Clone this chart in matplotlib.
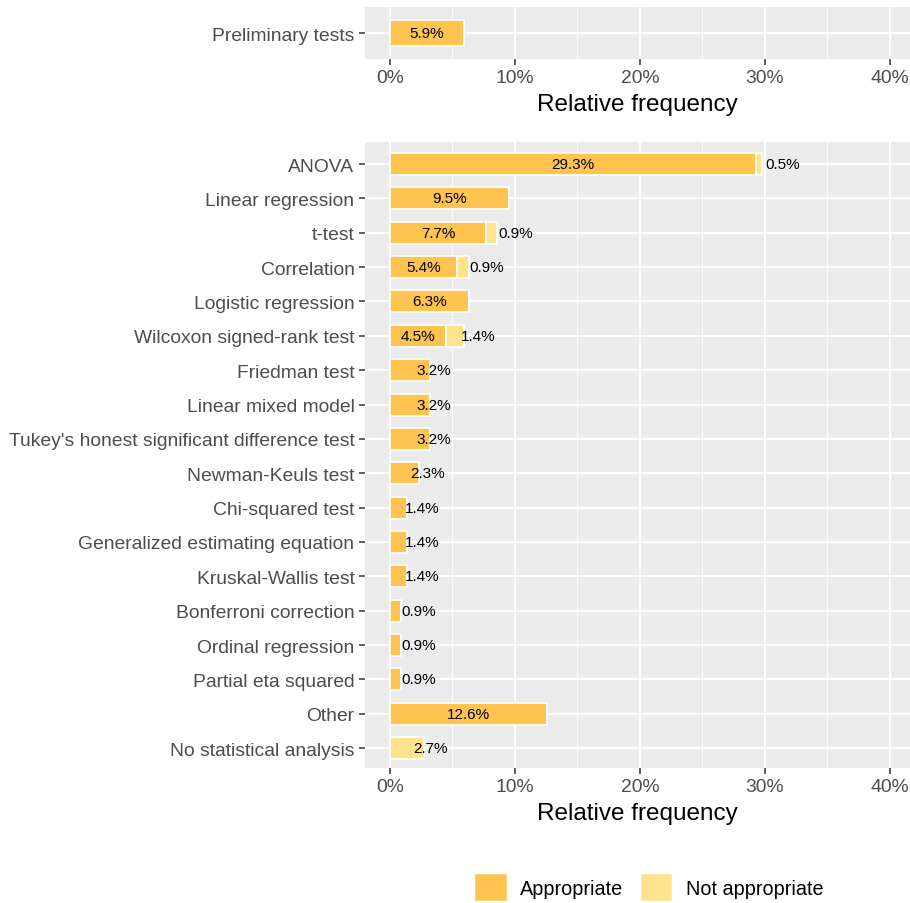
import matplotlib
matplotlib.use("Agg")
import matplotlib.pyplot as plt
from matplotlib.patches import Patch
import numpy as np

plt.rcParams['font.family'] = ['Liberation Sans', 'DejaVu Sans']

top_categories = ["Preliminary tests"]
top_appropriate = [5.9]
top_not_appropriate = [0.0]

categories = ["ANOVA", "Linear regression", "t-test", "Correlation", "Logistic regression",
              "Wilcoxon signed-rank test", "Friedman test", "Linear mixed model",
              "Tukey's honest significant difference test", "Newman-Keuls test",
              "Chi-squared test", "Generalized estimating equation", "Kruskal-Wallis test",
              "Bonferroni correction", "Ordinal regression", "Partial eta squared",
              "Other", "No statistical analysis"]
appropriate = [29.3, 9.5, 7.7, 5.4, 6.3, 4.5, 3.2, 3.2, 3.2, 2.3, 1.4, 1.4, 1.4, 0.9, 0.9, 0.9, 12.6, 0.0]
not_appropriate = [0.5, 0.0, 0.9, 0.9, 0.0, 1.4, 0.0, 0.0, 0.0, 0.0, 0.0, 0.0, 0.0, 0.0, 0.0, 0.0, 0.0, 2.7]

xticks = [0, 10, 20, 30, 40]
xtick_labels = ["0%", "10%", "20%", "30%", "40%"]
legend_labels = ["Appropriate", "Not appropriate"]

C_APP = "#FFC44F"
C_NOT = "#FFE38C"
BG = "#EBEBEB"

fig = plt.figure(figsize=(9.10, 9.04), dpi=100)
ax_top = fig.add_axes([0.401, 0.9336, 0.599, 0.0575])
ax_bot = fig.add_axes([0.401, 0.1493, 0.599, 0.6925])


def style(ax, cats):
    ax.set_facecolor(BG)
    for s in ax.spines.values():
        s.set_visible(False)
    ax.set_xlim(-2.0, 41.6)
    ax.set_xticks(xticks)
    ax.set_xticklabels(xtick_labels)
    ax.set_xticks([5, 15, 25, 35], minor=True)
    ax.set_yticks(np.arange(len(cats)))
    ax.set_yticklabels(cats)
    ax.tick_params(axis='both', which='major', length=4, width=1.1, color="#333333",
                   labelcolor="#4D4D4D", labelsize=13.9)
    ax.tick_params(axis='x', which='minor', length=0)
    ax.grid(True, which='major', color='white', linewidth=1.3)
    ax.grid(True, which='minor', axis='x', color='white', linewidth=0.6)
    ax.set_axisbelow(True)
    ax.set_xlabel("Relative frequency", fontsize=17.5, color="black", labelpad=5)


def draw(ax, cats, app, nota, h):
    y = np.arange(len(cats))
    ax.barh(y, app, height=h, color=C_APP, edgecolor='white', linewidth=1.2)
    ax.barh(y, nota, left=app, height=h, color=C_NOT, edgecolor='white', linewidth=1.2)
    for yi, a, n in zip(y, app, nota):
        for left, v in ((0, a), (a, n)):
            if v <= 0:
                continue
            c = left + v / 2
            if v >= 4:
                ax.text(c, yi, f"{v:.1f}%", ha='center', va='center', fontsize=11, color='black')
            else:
                ax.text(c + 0.5, yi, f"{v:.1f}%", ha='left', va='center', fontsize=11, color='black')


style(ax_top, top_categories)
ax_top.set_ylim(-0.6, 0.6)
draw(ax_top, top_categories, top_appropriate, top_not_appropriate, 0.6)

style(ax_bot, categories)
ax_bot.set_ylim(len(categories) - 0.42, -0.64)
draw(ax_bot, categories, appropriate, not_appropriate, 0.64)

handles = [Patch(facecolor=C_APP, edgecolor='white'), Patch(facecolor=C_NOT, edgecolor='white')]
fig.legend(handles, legend_labels, loc='lower center', bbox_to_anchor=(0.713, -0.018), ncol=2,
           frameon=False, fontsize=14.3, handlelength=1.65, handleheight=1.8,
           columnspacing=0.8, handletextpad=0.7)

fig.savefig("out.png", dpi=100)
